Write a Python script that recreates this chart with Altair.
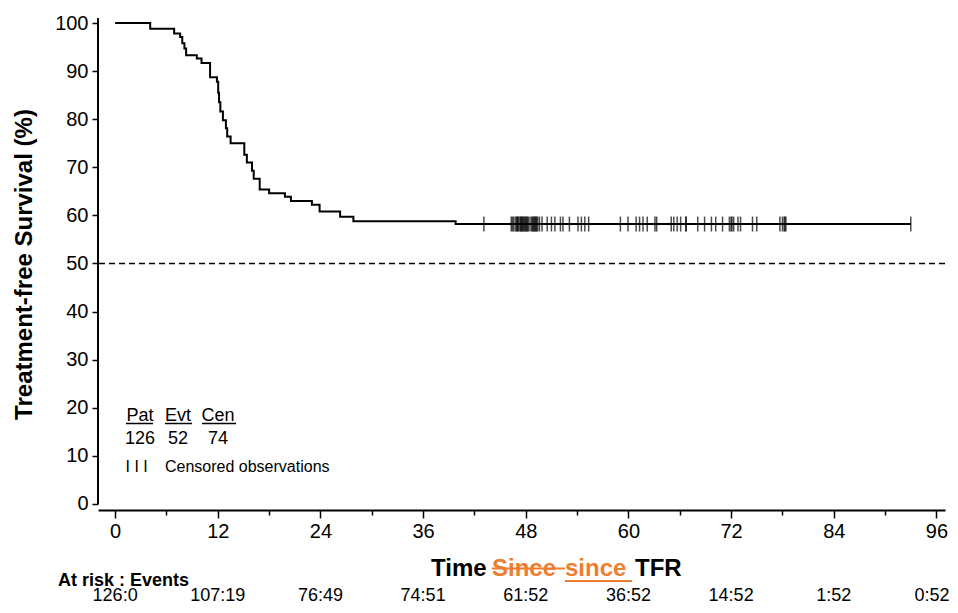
import altair as alt
import pandas as pd

# Kaplan-Meier step curve (months, survival %)
step_times = [0, 4.1, 6.9, 7.6, 7.85, 8.1, 8.3, 9.55, 10.1, 11.1, 11.9, 12.05, 12.15, 12.3,
              12.6, 12.95, 13.1, 13.5, 15.1, 15.4, 16.0, 16.2, 16.9, 18.0, 19.85, 20.55,
              23.0, 23.9, 26.3, 27.85, 39.8, 93.0]
step_surv = [100, 98.8, 97.8, 97.1, 95.8, 94.7, 93.3, 92.6, 91.7, 88.7, 87.8, 85.5, 83.5, 81.6,
             79.8, 78.1, 76.4, 75.0, 72.6, 71.0, 69.3, 67.6, 65.4, 64.6, 63.9, 63.0,
             62.2, 60.8, 59.7, 58.8, 58.2, 58.2]

# Censored observations (months)
censored_times = [43.1, 46.3, 46.45, 46.6, 46.8, 46.95, 47.0, 47.1, 47.2, 47.35, 47.45, 47.5,
                  47.6, 47.7, 47.8, 47.9, 48.0, 48.1, 48.2, 48.3, 48.5, 48.7, 48.8, 48.9,
                  49.0, 49.1, 49.2, 49.25, 49.4, 49.6, 49.9, 50.5, 51.0, 51.4, 52.05, 52.35,
                  53.1, 54.1, 54.5, 54.9, 55.35, 59.06, 59.95, 60.9, 61.3, 61.7, 62.2, 63.1,
                  63.3, 65.0, 65.3, 65.7, 66.1, 66.7, 66.75, 68.1, 68.9, 69.7, 70.2, 71.0,
                  71.8, 72.0, 72.1, 72.3, 72.8, 73.1, 74.5, 75.0, 77.7, 78.0, 78.2, 78.3,
                  78.4, 93.0]
censored_surv = 58.2

risk_months = [0, 12, 24, 36, 48, 60, 72, 84, 96]
risk_labels = ["126:0", "107:19", "76:49", "74:51", "61:52", "36:52", "14:52", "1:52", "0:52"]

summary_heads = ["Pat", "Evt", "Cen"]
summary_vals = ["126", "52", "74"]

FONT = "Liberation Sans"
ORANGE = "#ED7D31"

xs = alt.Scale(domain=[-2, 97], nice=False, zero=False)
ys = alt.Scale(domain=[-1.25, 101.04], nice=False, zero=False)

curve_df = pd.DataFrame({"t": step_times, "s": step_surv})
cens_df = pd.DataFrame({"t": censored_times, "s": [censored_surv] * len(censored_times)})
risk_df = pd.DataFrame({"t": risk_months, "lab": risk_labels})

x_axis = alt.Axis(
    values=list(range(0, 97, 6)),
    labelExpr="datum.value % 12 === 0 ? datum.label : ''",
    tickSize={"condition": {"test": "datum.value % 12 === 0", "value": 8}, "value": 5},
    tickWidth=1.5, tickColor="black", domainColor="black", domainWidth=2,
    labelFont=FONT, labelFontSize=20, labelColor="black", labelPadding=3,
    grid=False, title=None,
)
y_axis = alt.Axis(
    values=list(range(0, 101, 10)), tickSize=6, tickWidth=1.5, tickColor="black",
    domain=False, labelFont=FONT, labelFontSize=20, labelColor="black", labelPadding=4,
    grid=False, title="Treatment-free Survival (%)", titleFont=FONT, titleFontSize=24,
    titleFontWeight="bold", titleColor="black", titlePadding=18,
)

curve = alt.Chart(curve_df).mark_line(interpolate="step-after", color="black", strokeWidth=2).encode(
    x=alt.X("t:Q", scale=xs, axis=x_axis),
    y=alt.Y("s:Q", scale=ys, axis=y_axis),
)

ticks = alt.Chart(cens_df).mark_tick(orient="vertical", color="black", size=15, thickness=1.5).encode(
    x=alt.X("t:Q"), y=alt.Y("s:Q")
)

half = alt.Chart(pd.DataFrame({"s": [50]})).mark_rule(
    color="black", strokeWidth=1.5, strokeDash=[6, 4]
).encode(y=alt.Y("s:Q"))

yline = alt.Chart(pd.DataFrame({"t": [-2], "s": [0], "s2": [101.04]})).mark_rule(
    color="black", strokeWidth=2
).encode(x=alt.X("t:Q"), y=alt.Y("s:Q"), y2="s2:Q")

risk_main = alt.Chart(risk_df.iloc[:-1]).mark_text(
    font=FONT, fontSize=18, color="black", baseline="alphabetic"
).encode(x=alt.X("t:Q"), y=alt.value(583), text="lab:N")
risk_last = alt.Chart(risk_df.iloc[-1:]).mark_text(
    font=FONT, fontSize=18, color="black", baseline="alphabetic", align="right", dx=13
).encode(x=alt.X("t:Q"), y=alt.value(583), text="lab:N")


def label(txt, x, y, size=18, bold=False, color="black", align="left"):
    return alt.Chart(pd.DataFrame({"v": [txt]})).mark_text(
        text=txt, font=FONT, fontSize=size, fontWeight="bold" if bold else "normal",
        color=color, align=align, baseline="alphabetic",
    ).encode(x=alt.value(x), y=alt.value(y))


def hline(x1, x2, y, color="black", width=1.5):
    return alt.Chart(pd.DataFrame({"v": [0]})).mark_rule(color=color, strokeWidth=width).encode(
        x=alt.value(x1), x2=alt.value(x2), y=alt.value(y)
    )


annos = []
# x-axis title with tracked change
annos.append(label("Time", 333, 558, 24, True))
annos.append(label("Since", 394, 558, 24, True, ORANGE))
annos.append(hline(394, 467, 550.5, ORANGE, 2))
annos.append(label("since", 467, 558, 24, True, ORANGE))
annos.append(hline(467, 534, 563, ORANGE, 2))
annos.append(label("TFR", 537, 558, 24, True))
# at-risk header
annos.append(label("At risk : Events", -40, 568, 18, True))
# summary box
head_x = [42, 80, 120]
under = [(28, 55), (67, 94), (104, 138)]
for h, v, cx, (u1, u2) in zip(summary_heads, summary_vals, head_x, under):
    annos.append(label(h, cx, 402.5, 18, False, "black", "center"))
    annos.append(hline(u1, u2, 405.5))
    annos.append(label(v, cx, 425.5, 18, False, "black", "center"))
annos.append(label("I  I  I", 27.5, 454, 16))
annos.append(label("Censored observations", 67, 454, 16))

chart = alt.layer(half, yline, curve, ticks, risk_main, risk_last, *annos).properties(
    width=847, height=492,
    autosize="none",
    padding={"left": 90, "top": 10, "right": 5, "bottom": 95},
).configure_view(stroke=None)

chart.save("out.html", embed_options={"renderer": "svg", "actions": False})
